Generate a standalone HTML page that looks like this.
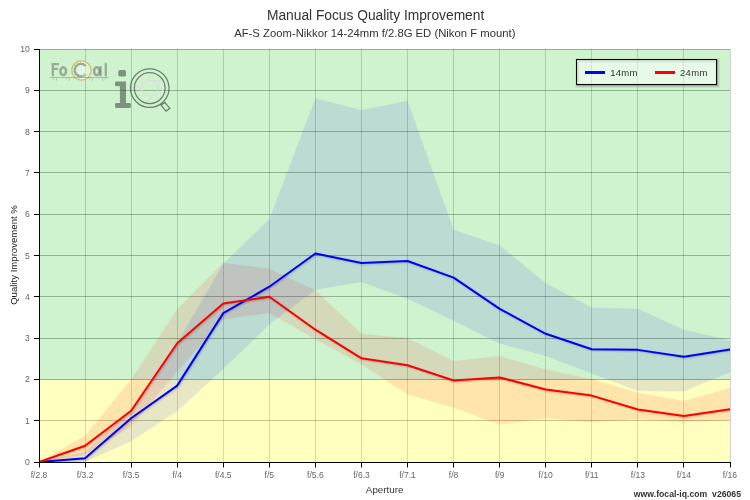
<!DOCTYPE html>
<html><head><meta charset="utf-8"><title>Manual Focus Quality Improvement</title>
<style>html,body{margin:0;padding:0;background:#fff;width:750px;height:500px;overflow:hidden;font-family:"Liberation Sans",sans-serif}</style></head>
<body>
<svg width="750" height="500" viewBox="0 0 750 500" style="position:absolute;left:0;top:0;will-change:transform;font-family:'Liberation Sans',sans-serif">
<rect x="0" y="0" width="750" height="500" fill="#fff"/>
<path d="M85.5 49.0 V462.0" stroke="rgba(0,0,0,0.185)" stroke-width="1" fill="none"/>
<path d="M131.5 49.0 V462.0" stroke="rgba(0,0,0,0.185)" stroke-width="1" fill="none"/>
<path d="M177.5 49.0 V462.0" stroke="rgba(0,0,0,0.185)" stroke-width="1" fill="none"/>
<path d="M223.5 49.0 V462.0" stroke="rgba(0,0,0,0.185)" stroke-width="1" fill="none"/>
<path d="M269.5 49.0 V462.0" stroke="rgba(0,0,0,0.185)" stroke-width="1" fill="none"/>
<path d="M315.5 49.0 V462.0" stroke="rgba(0,0,0,0.185)" stroke-width="1" fill="none"/>
<path d="M361.5 49.0 V462.0" stroke="rgba(0,0,0,0.185)" stroke-width="1" fill="none"/>
<path d="M407.5 49.0 V462.0" stroke="rgba(0,0,0,0.185)" stroke-width="1" fill="none"/>
<path d="M453.5 49.0 V462.0" stroke="rgba(0,0,0,0.185)" stroke-width="1" fill="none"/>
<path d="M499.5 49.0 V462.0" stroke="rgba(0,0,0,0.185)" stroke-width="1" fill="none"/>
<path d="M545.5 49.0 V462.0" stroke="rgba(0,0,0,0.185)" stroke-width="1" fill="none"/>
<path d="M591.5 49.0 V462.0" stroke="rgba(0,0,0,0.185)" stroke-width="1" fill="none"/>
<path d="M637.5 49.0 V462.0" stroke="rgba(0,0,0,0.185)" stroke-width="1" fill="none"/>
<path d="M683.5 49.0 V462.0" stroke="rgba(0,0,0,0.185)" stroke-width="1" fill="none"/>
<path d="M730.5 49.0 V462.0" stroke="rgba(0,0,0,0.185)" stroke-width="1" fill="none"/>
<path d="M39.0 420.5 H730.0" stroke="rgba(0,0,0,0.3)" stroke-width="1" fill="none"/>
<path d="M39.0 379.5 H730.0" stroke="rgba(0,0,0,0.3)" stroke-width="1" fill="none"/>
<path d="M39.0 338.5 H730.0" stroke="rgba(0,0,0,0.3)" stroke-width="1" fill="none"/>
<path d="M39.0 296.5 H730.0" stroke="rgba(0,0,0,0.3)" stroke-width="1" fill="none"/>
<path d="M39.0 255.5 H730.0" stroke="rgba(0,0,0,0.3)" stroke-width="1" fill="none"/>
<path d="M39.0 214.5 H730.0" stroke="rgba(0,0,0,0.3)" stroke-width="1" fill="none"/>
<path d="M39.0 172.5 H730.0" stroke="rgba(0,0,0,0.3)" stroke-width="1" fill="none"/>
<path d="M39.0 131.5 H730.0" stroke="rgba(0,0,0,0.3)" stroke-width="1" fill="none"/>
<path d="M39.0 90.5 H730.0" stroke="rgba(0,0,0,0.3)" stroke-width="1" fill="none"/>
<path d="M39.0 49.5 H730.0" stroke="rgba(0,0,0,0.3)" stroke-width="1" fill="none"/>
<rect x="39.0" y="49.0" width="691.0" height="330.9" fill="rgba(0,184,0,0.19)"/>
<rect x="39.0" y="379.9" width="691.0" height="82.6" fill="rgba(255,255,0,0.25)"/>
<g id="logo">
<!-- FoCal -->
<g fill="none" stroke="#606860" stroke-opacity="0.5" stroke-width="2.3">
<path d="M52.85 76.3 V64.15 H59.1 M52.85 68.85 H57.8"/>
<ellipse cx="63.2" cy="71.2" rx="2.85" ry="3.9" stroke-width="2.5"/>
<path d="M85.3 66.2 A6.1 6.2 0 1 0 85.3 73.8" stroke-width="2.6"/>
<ellipse cx="96.8" cy="71.2" rx="2.75" ry="3.9" stroke-width="2.5"/>
<path d="M100.55 66.1 V76.3"/>
<path d="M105.8 63.1 V76.3"/>
</g>
<circle cx="82.8" cy="70.4" r="5.4" fill="#fff" fill-opacity="0.42"/>
<circle cx="81.45" cy="70.5" r="9.65" fill="none" stroke="#ddb560" stroke-width="1.4" stroke-opacity="0.9"/>
<circle cx="81.45" cy="70.5" r="8.3" fill="none" stroke="#fff" stroke-width="1.1" stroke-opacity="0.6" stroke-dasharray="2.2 1.0"/>
<path d="M50 77.5 H109" stroke="#606860" stroke-opacity="0.38" stroke-width="1" fill="none"/>
<path d="M53.3 78 v1.5 M56.4 78 v3 M66.3 78 v1.5 M69.3 78 v3 M89.6 78 v1.5 M92.4 78 v3 M102.6 78 v3 M105.3 78 v1.5" stroke="#606860" stroke-opacity="0.28" stroke-width="1" fill="none"/>
<!-- iQ -->
<g fill="#3c463c" fill-opacity="0.55">
<rect x="118.3" y="70.1" width="7.7" height="6.4" rx="1.6"/>
<path d="M115 82.8 q0-1.3 1.3-1.3 h9.7 v21.6 h3.6 q1.3 0 1.3 1.3 v2.2 q0 1.3-1.3 1.3 h-13.3 q-1.3 0-1.3-1.3 v-2.2 q0-1.3 1.3-1.3 h3.6 v-16.8 h-3.6 q-1.3 0-1.3-1.3 z"/>
</g>
<g fill="none" stroke="#2e3e32" stroke-opacity="0.62" stroke-width="1.25">
<circle cx="149.75" cy="88.1" r="19.3"/>
<circle cx="149.75" cy="88.1" r="15.4"/>
<path d="M160.9 105 L165 102.6 L169.8 108.3 L166 111.1 Z"/>
</g>
<path d="M142.20 91.07 L142.20 75.70 M142.20 84.94 L153.06 74.07 M146.53 80.60 L161.90 80.60 M152.66 80.60 L163.53 91.46 M157.00 84.93 L157.00 100.30 M157.00 91.06 L146.14 101.93 M152.67 95.40 L137.30 95.40 M146.54 95.40 L135.67 84.54" fill="none" stroke="#dcdcdc" stroke-opacity="0.7" stroke-width="1.3"/>
</g>

<defs><clipPath id="pc"><rect x="39" y="49" width="691" height="413"/></clipPath></defs><g clip-path="url(#pc)">
<path d="M39.00 462.00 L85.07 435.57 L131.13 379.40 L177.20 309.19 L223.27 262.69 L269.33 268.72 L315.40 290.32 L361.47 333.76 L407.53 337.89 L453.60 360.90 L499.67 355.98 L545.73 369.49 L591.80 378.99 L637.87 392.82 L683.93 400.75 L730.00 388.07 L730.00 420.00 L683.93 422.35 L637.87 419.25 L591.80 422.35 L545.73 418.30 L499.67 424.83 L453.60 407.73 L407.53 394.52 L361.47 364.53 L315.40 339.34 L269.33 313.11 L223.27 319.60 L177.20 371.55 L131.13 426.48 L85.07 454.98 L39.00 462.00 Z" fill="#ff0000" fill-opacity="0.1"/>
<path d="M39.00 462.00 L85.07 451.68 L131.13 410.38 L177.20 343.06 L223.27 263.76 L269.33 219.16 L315.40 98.23 L361.47 110.00 L407.53 101.12 L453.60 229.81 L499.67 245.42 L545.73 283.17 L591.80 307.87 L637.87 308.82 L683.93 329.72 L730.00 340.50 L730.00 372.17 L683.93 391.46 L637.87 390.96 L591.80 373.41 L545.73 356.07 L499.67 343.39 L453.60 320.75 L407.53 298.74 L361.47 281.93 L315.40 289.82 L269.33 324.47 L223.27 369.07 L177.20 411.37 L131.13 441.35 L85.07 462.00 L39.00 462.00 Z" fill="#0000ff" fill-opacity="0.093"/>
<g transform="translate(1,1)"><path d="M39.00 462.00 L85.07 458.32 L131.13 418.22 L177.20 385.60 L223.27 313.11 L269.33 286.72 L315.40 253.56 L361.47 262.93 L407.53 261.03 L453.60 277.60 L499.67 308.82 L545.73 333.76 L591.80 349.25 L637.87 349.87 L683.93 356.81 L730.00 349.37" stroke="#000" stroke-opacity="0.03" stroke-width="5" fill="none" stroke-linejoin="round" stroke-linecap="round"/><path d="M39.00 462.00 L85.07 458.32 L131.13 418.22 L177.20 385.60 L223.27 313.11 L269.33 286.72 L315.40 253.56 L361.47 262.93 L407.53 261.03 L453.60 277.60 L499.67 308.82 L545.73 333.76 L591.80 349.25 L637.87 349.87 L683.93 356.81 L730.00 349.37" stroke="#000" stroke-opacity="0.05" stroke-width="3" fill="none" stroke-linejoin="round" stroke-linecap="round"/><path d="M39.00 462.00 L85.07 458.32 L131.13 418.22 L177.20 385.60 L223.27 313.11 L269.33 286.72 L315.40 253.56 L361.47 262.93 L407.53 261.03 L453.60 277.60 L499.67 308.82 L545.73 333.76 L591.80 349.25 L637.87 349.87 L683.93 356.81 L730.00 349.37" stroke="#000" stroke-opacity="0.1" stroke-width="1" fill="none" stroke-linejoin="round" stroke-linecap="round"/></g>
<path d="M39.00 462.00 L85.07 458.32 L131.13 418.22 L177.20 385.60 L223.27 313.11 L269.33 286.72 L315.40 253.56 L361.47 262.93 L407.53 261.03 L453.60 277.60 L499.67 308.82 L545.73 333.76 L591.80 349.25 L637.87 349.87 L683.93 356.81 L730.00 349.37" stroke="#0000ff" stroke-width="2" fill="none" stroke-linejoin="round" stroke-linecap="round"/>
<g transform="translate(1,1)"><path d="M39.00 462.00 L85.07 445.81 L131.13 410.79 L177.20 343.26 L223.27 303.53 L269.33 296.80 L315.40 329.72 L361.47 358.34 L407.53 365.23 L453.60 380.52 L499.67 377.46 L545.73 389.48 L591.80 395.59 L637.87 409.43 L683.93 415.91 L730.00 409.18" stroke="#000" stroke-opacity="0.03" stroke-width="5" fill="none" stroke-linejoin="round" stroke-linecap="round"/><path d="M39.00 462.00 L85.07 445.81 L131.13 410.79 L177.20 343.26 L223.27 303.53 L269.33 296.80 L315.40 329.72 L361.47 358.34 L407.53 365.23 L453.60 380.52 L499.67 377.46 L545.73 389.48 L591.80 395.59 L637.87 409.43 L683.93 415.91 L730.00 409.18" stroke="#000" stroke-opacity="0.05" stroke-width="3" fill="none" stroke-linejoin="round" stroke-linecap="round"/><path d="M39.00 462.00 L85.07 445.81 L131.13 410.79 L177.20 343.26 L223.27 303.53 L269.33 296.80 L315.40 329.72 L361.47 358.34 L407.53 365.23 L453.60 380.52 L499.67 377.46 L545.73 389.48 L591.80 395.59 L637.87 409.43 L683.93 415.91 L730.00 409.18" stroke="#000" stroke-opacity="0.1" stroke-width="1" fill="none" stroke-linejoin="round" stroke-linecap="round"/></g>
<path d="M39.00 462.00 L85.07 445.81 L131.13 410.79 L177.20 343.26 L223.27 303.53 L269.33 296.80 L315.40 329.72 L361.47 358.34 L407.53 365.23 L453.60 380.52 L499.67 377.46 L545.73 389.48 L591.80 395.59 L637.87 409.43 L683.93 415.91 L730.00 409.18" stroke="#ff0000" stroke-width="2" fill="none" stroke-linejoin="round" stroke-linecap="round"/>
</g>
<path d="M39.5 49 V463" stroke="#000" stroke-width="1" fill="none"/>
<path d="M39 462.5 H731" stroke="#000" stroke-width="1.1" fill="none"/>
<path d="M39.5 462.5 V467.5" stroke="#000" stroke-width="1" fill="none"/>
<text x="39.0" y="478" text-anchor="middle" font-size="8.55" fill="#666">f/2.8</text>
<path d="M85.5 462.5 V467.5" stroke="#000" stroke-width="1" fill="none"/>
<text x="85.1" y="478" text-anchor="middle" font-size="8.55" fill="#666">f/3.2</text>
<path d="M131.5 462.5 V467.5" stroke="#000" stroke-width="1" fill="none"/>
<text x="131.1" y="478" text-anchor="middle" font-size="8.55" fill="#666">f/3.5</text>
<path d="M177.5 462.5 V467.5" stroke="#000" stroke-width="1" fill="none"/>
<text x="177.2" y="478" text-anchor="middle" font-size="8.55" fill="#666">f/4</text>
<path d="M223.5 462.5 V467.5" stroke="#000" stroke-width="1" fill="none"/>
<text x="223.3" y="478" text-anchor="middle" font-size="8.55" fill="#666">f/4.5</text>
<path d="M269.5 462.5 V467.5" stroke="#000" stroke-width="1" fill="none"/>
<text x="269.3" y="478" text-anchor="middle" font-size="8.55" fill="#666">f/5</text>
<path d="M315.5 462.5 V467.5" stroke="#000" stroke-width="1" fill="none"/>
<text x="315.4" y="478" text-anchor="middle" font-size="8.55" fill="#666">f/5.6</text>
<path d="M361.5 462.5 V467.5" stroke="#000" stroke-width="1" fill="none"/>
<text x="361.5" y="478" text-anchor="middle" font-size="8.55" fill="#666">f/6.3</text>
<path d="M407.5 462.5 V467.5" stroke="#000" stroke-width="1" fill="none"/>
<text x="407.5" y="478" text-anchor="middle" font-size="8.55" fill="#666">f/7.1</text>
<path d="M453.5 462.5 V467.5" stroke="#000" stroke-width="1" fill="none"/>
<text x="453.6" y="478" text-anchor="middle" font-size="8.55" fill="#666">f/8</text>
<path d="M499.5 462.5 V467.5" stroke="#000" stroke-width="1" fill="none"/>
<text x="499.7" y="478" text-anchor="middle" font-size="8.55" fill="#666">f/9</text>
<path d="M545.5 462.5 V467.5" stroke="#000" stroke-width="1" fill="none"/>
<text x="545.7" y="478" text-anchor="middle" font-size="8.55" fill="#666">f/10</text>
<path d="M591.5 462.5 V467.5" stroke="#000" stroke-width="1" fill="none"/>
<text x="591.8" y="478" text-anchor="middle" font-size="8.55" fill="#666">f/11</text>
<path d="M637.5 462.5 V467.5" stroke="#000" stroke-width="1" fill="none"/>
<text x="637.9" y="478" text-anchor="middle" font-size="8.55" fill="#666">f/13</text>
<path d="M683.5 462.5 V467.5" stroke="#000" stroke-width="1" fill="none"/>
<text x="683.9" y="478" text-anchor="middle" font-size="8.55" fill="#666">f/14</text>
<path d="M730.5 462.5 V467.5" stroke="#000" stroke-width="1" fill="none"/>
<text x="730.0" y="478" text-anchor="middle" font-size="8.55" fill="#666">f/16</text>
<path d="M34 462.5 H39.5" stroke="#000" stroke-width="1" fill="none"/>
<text x="29.8" y="465.0" text-anchor="end" font-size="8.6" fill="#666">0</text>
<path d="M34 420.5 H39.5" stroke="#000" stroke-width="1" fill="none"/>
<text x="29.8" y="423.7" text-anchor="end" font-size="8.6" fill="#666">1</text>
<path d="M34 379.5 H39.5" stroke="#000" stroke-width="1" fill="none"/>
<text x="29.8" y="382.4" text-anchor="end" font-size="8.6" fill="#666">2</text>
<path d="M34 338.5 H39.5" stroke="#000" stroke-width="1" fill="none"/>
<text x="29.8" y="341.1" text-anchor="end" font-size="8.6" fill="#666">3</text>
<path d="M34 296.5 H39.5" stroke="#000" stroke-width="1" fill="none"/>
<text x="29.8" y="299.8" text-anchor="end" font-size="8.6" fill="#666">4</text>
<path d="M34 255.5 H39.5" stroke="#000" stroke-width="1" fill="none"/>
<text x="29.8" y="258.5" text-anchor="end" font-size="8.6" fill="#666">5</text>
<path d="M34 214.5 H39.5" stroke="#000" stroke-width="1" fill="none"/>
<text x="29.8" y="217.2" text-anchor="end" font-size="8.6" fill="#666">6</text>
<path d="M34 172.5 H39.5" stroke="#000" stroke-width="1" fill="none"/>
<text x="29.8" y="175.9" text-anchor="end" font-size="8.6" fill="#666">7</text>
<path d="M34 131.5 H39.5" stroke="#000" stroke-width="1" fill="none"/>
<text x="29.8" y="134.6" text-anchor="end" font-size="8.6" fill="#666">8</text>
<path d="M34 90.5 H39.5" stroke="#000" stroke-width="1" fill="none"/>
<text x="29.8" y="93.3" text-anchor="end" font-size="8.6" fill="#666">9</text>
<path d="M34 49.5 H39.5" stroke="#000" stroke-width="1" fill="none"/>
<text x="29.8" y="52.0" text-anchor="end" font-size="8.6" fill="#666">10</text>
<text x="375.6" y="20.2" text-anchor="middle" font-size="13.77" fill="#333">Manual Focus Quality Improvement</text>
<text x="374.8" y="36.7" text-anchor="middle" font-size="11.3" fill="#333">AF-S Zoom-Nikkor 14-24mm f/2.8G ED (Nikon F mount)</text>
<text x="384.7" y="493.2" text-anchor="middle" font-size="9.85" fill="#333">Aperture</text>
<text transform="translate(17,255) rotate(-90)" text-anchor="middle" font-size="9.6" fill="#222">Quality Improvement %</text>
<text x="741" y="496.8" text-anchor="end" font-size="8.68" font-weight="bold" fill="#333">www.focal-iq.com&#160;&#160;v26065</text>
<rect x="577.5" y="60.5" width="140" height="25" fill="none" stroke="#000" stroke-opacity="0.05" stroke-width="5"/>
<rect x="577.5" y="60.5" width="140" height="25" fill="none" stroke="#000" stroke-opacity="0.1" stroke-width="3"/>
<rect x="577.5" y="60.5" width="140" height="25" fill="none" stroke="#000" stroke-opacity="0.15" stroke-width="1"/>
<rect x="576.5" y="59.5" width="140" height="25" fill="#fff" fill-opacity="0.5" stroke="#000" stroke-width="1"/>
<path d="M585 72.5 H605" stroke="#0000ff" stroke-width="3" fill="none"/>
<text x="610.2" y="75.6" font-size="9.5" letter-spacing="0.3" fill="#333">14mm</text>
<path d="M655 72.5 H675" stroke="#ff0000" stroke-width="3" fill="none"/>
<text x="680" y="75.6" font-size="9.5" letter-spacing="0.3" fill="#333">24mm</text>
</svg>
</body></html>
